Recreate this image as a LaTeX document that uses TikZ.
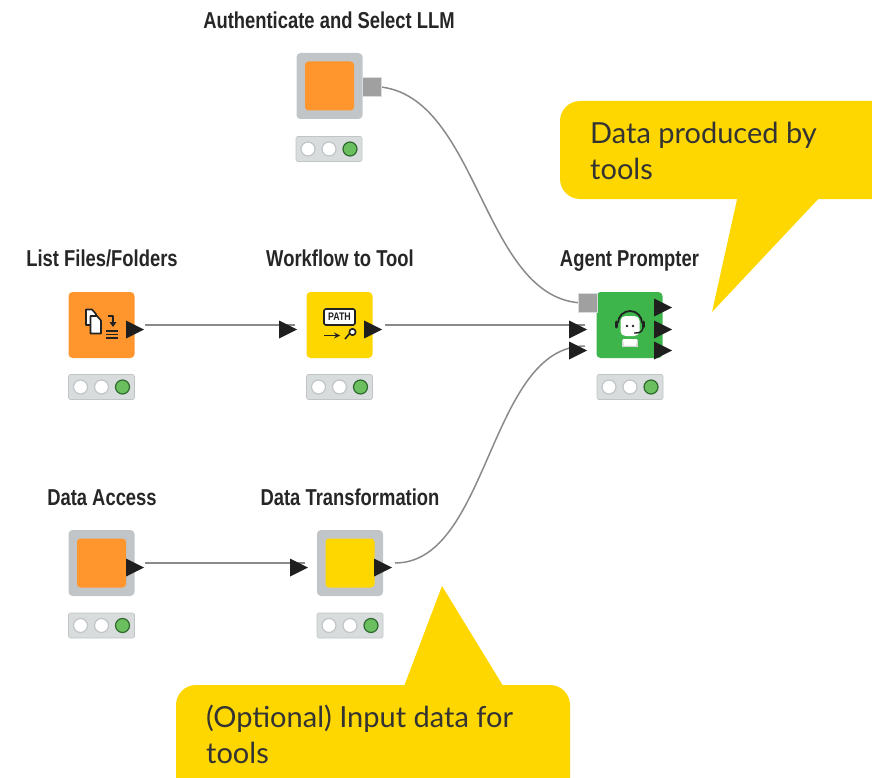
\documentclass[tikz,border=0pt]{standalone}
\usepackage{fontspec}
\setmainfont{Lato}
\newfontfamily\titlefont[FakeStretch=0.80]{Liberation Sans}
\usetikzlibrary{shapes.geometric}
\definecolor{kor}{HTML}{FF962D}
\definecolor{kye}{HTML}{FFD700}
\definecolor{kgr}{HTML}{3DB54A}
\definecolor{kframe}{HTML}{C1C5C7}
\definecolor{kstat}{HTML}{D9DCDC}
\definecolor{kport}{HTML}{A0A0A0}
\definecolor{kwire}{HTML}{8A8A8A}
\definecolor{kdark}{HTML}{1F1F1F}
\definecolor{klight}{HTML}{6CBF5E}
\definecolor{klightd}{HTML}{2F6B30}
\definecolor{kic}{HTML}{222222}
\tikzset{
  tri/.style={isosceles triangle,isosceles triangle stretches,fill=kdark,inner sep=0pt,outer sep=0pt,minimum width=18pt,minimum height=18pt,anchor=left side},
  gport/.style={rectangle,fill=kport,draw=kstat,line width=.6pt,inner sep=0pt,outer sep=0pt,minimum width=19pt,minimum height=19pt},
  tile/.style={rectangle,rounded corners=4pt,inner sep=0pt,outer sep=0pt,minimum size=66pt},
  frametile/.style={tile,fill=kframe},
  innertile/.style={rectangle,rounded corners=3.5pt,inner sep=0pt,minimum size=49pt},
  stat/.style={rectangle,rounded corners=1.5pt,fill=kstat,draw=kframe,line width=.6pt,inner sep=0pt,minimum width=66pt,minimum height=25pt},
  lamp/.style={circle,fill=white,draw=kframe,line width=1.2pt,inner sep=0pt,minimum size=14pt},
  lampon/.style={circle,fill=klight,draw=klightd,line width=1.2pt,inner sep=0pt,minimum size=14pt},
  wire/.style={draw=kwire,line width=1.5pt},
  title/.style={font=\titlefont\bfseries\fontsize{23}{26}\selectfont,text=black!85,inner sep=0pt,anchor=base},
  note/.style={font=\fontsize{29}{34}\selectfont,text=black!80,inner sep=0pt,anchor=base west},
  callout/.style={fill=kye,rounded corners=20pt},
  icon/.style={draw=kic,line width=1.6pt,line join=round}
}
\newcommand{\statusbar}[3]{%
  \node[stat] (#1) at (#2,#3) {};
  \node[lamp] (#1a) at (#2-21,#3) {};
  \node[lamp] (#1b) at (#2,#3) {};
  \node[lampon] (#1c) at (#2+21,#3) {};
}
\begin{document}
\begin{tikzpicture}[x=1pt,y=-1pt]
\useasboundingbox (0,0) rectangle (872,778);
% callouts
\fill[callout] (560,101) rectangle (895,199);
\fill[kye] (738,195) -- (822,195) -- (712,312) -- cycle;
\fill[callout] (176,685) rectangle (570,810);
\fill[kye] (403,689) -- (505,689) -- (442,586) -- cycle;
\node[note] (n1) at (590,144) {Data produced by};
\node[note] (n2) at (590,180) {tools};
\node[note] (n3) at (206,727) {(Optional) Input data for};
\node[note] (n4) at (206,763) {tools};
% titles
\node[title] (t1) at (329,29) {Authenticate and Select LLM};
\node[title] (t2) at (102,266) {List Files/Folders};
\node[title] (t3) at (340,266) {Workflow to Tool};
\node[title] (t4) at (629.5,266) {Agent Prompter};
\node[title] (t5) at (102,505) {Data Access};
\node[title] (t6) at (350,505) {Data Transformation};
% nodes
\node[frametile] (auth) at (329.5,86) {};
\node[innertile,fill=kor] (authin) at (329.5,86) {};
\node[tile,fill=kor] (list) at (101.5,325) {};
\node[tile,fill=kye] (wf) at (339.5,325) {};
\node[tile,fill=kgr] (agent) at (629.5,325) {};
\node[frametile] (access) at (101.5,563) {};
\node[innertile,fill=kor] (accessin) at (101.5,563) {};
\node[frametile] (trans) at (350,563) {};
\node[innertile,fill=kye] (transin) at (350,563) {};
% status
\statusbar{s1}{329}{149}
\statusbar{s2}{101.5}{387}
\statusbar{s3}{339.5}{387}
\statusbar{s4}{630}{387}
\statusbar{s5}{101.5}{625.5}
\statusbar{s6}{350}{625.5}
% wires
\draw[wire] (372,86.5) coordinate (aw) .. controls (480,86.5) and (480,303) .. (585,303) coordinate (bw);
\draw[wire] (145,325) -- (295,325);
\draw[wire] (385,325) -- (585,325);
\draw[wire] (145,563) -- (305,563);
\draw[wire] (395,563) .. controls (489,563) and (489,346) .. (585,346);
% ports
\node[gport] (authout) at (372,86.5) {};
\node[gport] (agentmodel) at (587.5,303) {};
\node[tri] (listout) at (135,325) {};
\node[tri] (wfin) at (288,325) {};
\node[tri] (wfout) at (373,325) {};
\node[tri] (agentin1) at (578,325) {};
\node[tri] (agentin2) at (578,346) {};
\node[tri] (agentout1) at (663,303) {};
\node[tri] (agentout2) at (663,325) {};
\node[tri] (agentout3) at (663,346) {};
\node[tri] (accessout) at (135,563) {};
\node[tri] (transin2) at (299,563) {};
\node[tri] (transout) at (383,563) {};
% list icon
\filldraw[icon,fill=white] (86,309.5) -- (92,309.5) -- (96,314) -- (96,325) -- (86,325) -- cycle;
\filldraw[icon,fill=white] (90.5,316) -- (97,316) -- (101,320.5) -- (101,333.5) -- (90.5,333.5) -- cycle;
\draw[icon] (108,316) -- (113,316) -- (113,323);
\fill[kic] (109.5,322) -- (116.5,322) -- (113,327) -- cycle;
\draw[kic,line width=1.5pt] (106,331) -- (118,331) (106,334.5) -- (118,334.5) (106,338) -- (118,338);
% path icon
\draw[icon,fill=white,rounded corners=1.5pt] (324,309) rectangle (355,325);
\node[font=\titlefont\bfseries\fontsize{11}{11}\selectfont,text=kic,inner sep=0pt] (pth) at (339.5,317.2) {PATH};
\draw[icon,->,>=stealth] (324,335.5) -- (340,335.5);
\draw[kic,line width=1.6pt] (345,339) -- (350,333);
\draw[icon,fill=white] (352.5,332) circle (3.2pt);
% agent icon
\fill[white] (622,346) -- (638,346) -- (636.5,340) -- (623.5,340) -- cycle;
\fill[black!15] (622,347) rectangle (638,340) ;
\fill[white] (623,339) -- (637,339) -- (636,345.5) -- (624,345.5) -- cycle;
\draw[kic,line width=1.8pt] (618,323) arc[start angle=180,end angle=0,radius=12pt];
\draw[kic,line width=3pt,line cap=round] (616.5,322) -- (616.5,327) (643.5,322) -- (643.5,327);
\fill[white,rounded corners=5pt] (620.5,316) rectangle (639.5,336);
\fill[kic] (627,326) circle (1.3pt) (633,326) circle (1.3pt);
\draw[kic,line width=1.4pt] (643,328) .. controls (642,333) and (638,333) .. (634,333);
\end{tikzpicture}
\end{document}
